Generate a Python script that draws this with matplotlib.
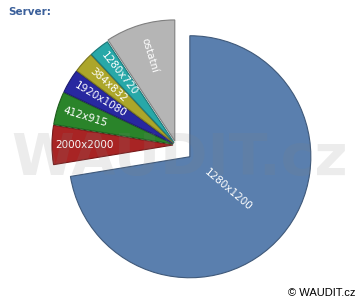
import numpy as np
import matplotlib
matplotlib.use("Agg")
import matplotlib.pyplot as plt
import matplotlib.colors as mcolors

labels = ["1280x1200", "2000x2000", "412x915", "1920x1080", "384x832", "1280x720", "ostatní"]
values = [72.4, 5.2, 4.4, 3.2, 2.8, 2.7, 9.3]
colors = ["#5a7fae", "#a82424", "#2a842a", "#2828a0", "#aca62a", "#28a8a8", "#b5b5b5"]
explode_frac = [0.15, 0.025, 0.025, 0.025, 0.025, 0.025, 0.035]
label_frac = [0.42, 0.73, 0.76, 0.70, 0.72, 0.73, 0.74]

W, H = 360, 300
fig = plt.figure(figsize=(W / 100, H / 100), dpi=100)
ax = fig.add_axes([0, 0, 1, 1])

cx, cy, R = 176, H - 145, 121
edge = [tuple(c * 0.7 for c in mcolors.to_rgb(col)) for col in colors]
wedges, _ = ax.pie(values, colors=colors, explode=[e * R for e in explode_frac], startangle=90,
                   counterclock=False, center=(cx, cy), radius=R,
                   wedgeprops=dict(linewidth=0.8))
for w, ec in zip(wedges, edge):
    w.set_edgecolor(ec)

for w, lab, f in zip(wedges, labels, label_frac):
    mid = (w.theta1 + w.theta2) / 2
    a = np.deg2rad(mid)
    x = w.center[0] + f * R * np.cos(a)
    y = w.center[1] + f * R * np.sin(a)
    rot = mid % 360
    if 90 < rot < 270:
        rot -= 180
    ax.text(x, y, lab, rotation=rot, rotation_mode="anchor", ha="center", va="center",
            color="white", fontsize=7.5, family="DejaVu Sans")

ax.set_xlim(0, W)
ax.set_ylim(0, H)
ax.set_aspect("equal")
ax.axis("off")

# watermark
ax.text(180, H - 159, "WAUDIT.cz", fontsize=41, fontweight="bold", family="DejaVu Sans",
        color="#808080", alpha=0.15, ha="center", va="center", zorder=10)

fig.text(8 / W, 1 - 12 / H, "Server:", fontsize=7.5, fontweight="bold", color="#3a5f9a",
         ha="left", va="center", family="DejaVu Sans")
fig.text(355 / W, 1 - 293 / H, "© WAUDIT.cz", fontsize=8, color="black",
         ha="right", va="center", family="Liberation Sans")

fig.savefig("out.png", dpi=100, facecolor="white")
